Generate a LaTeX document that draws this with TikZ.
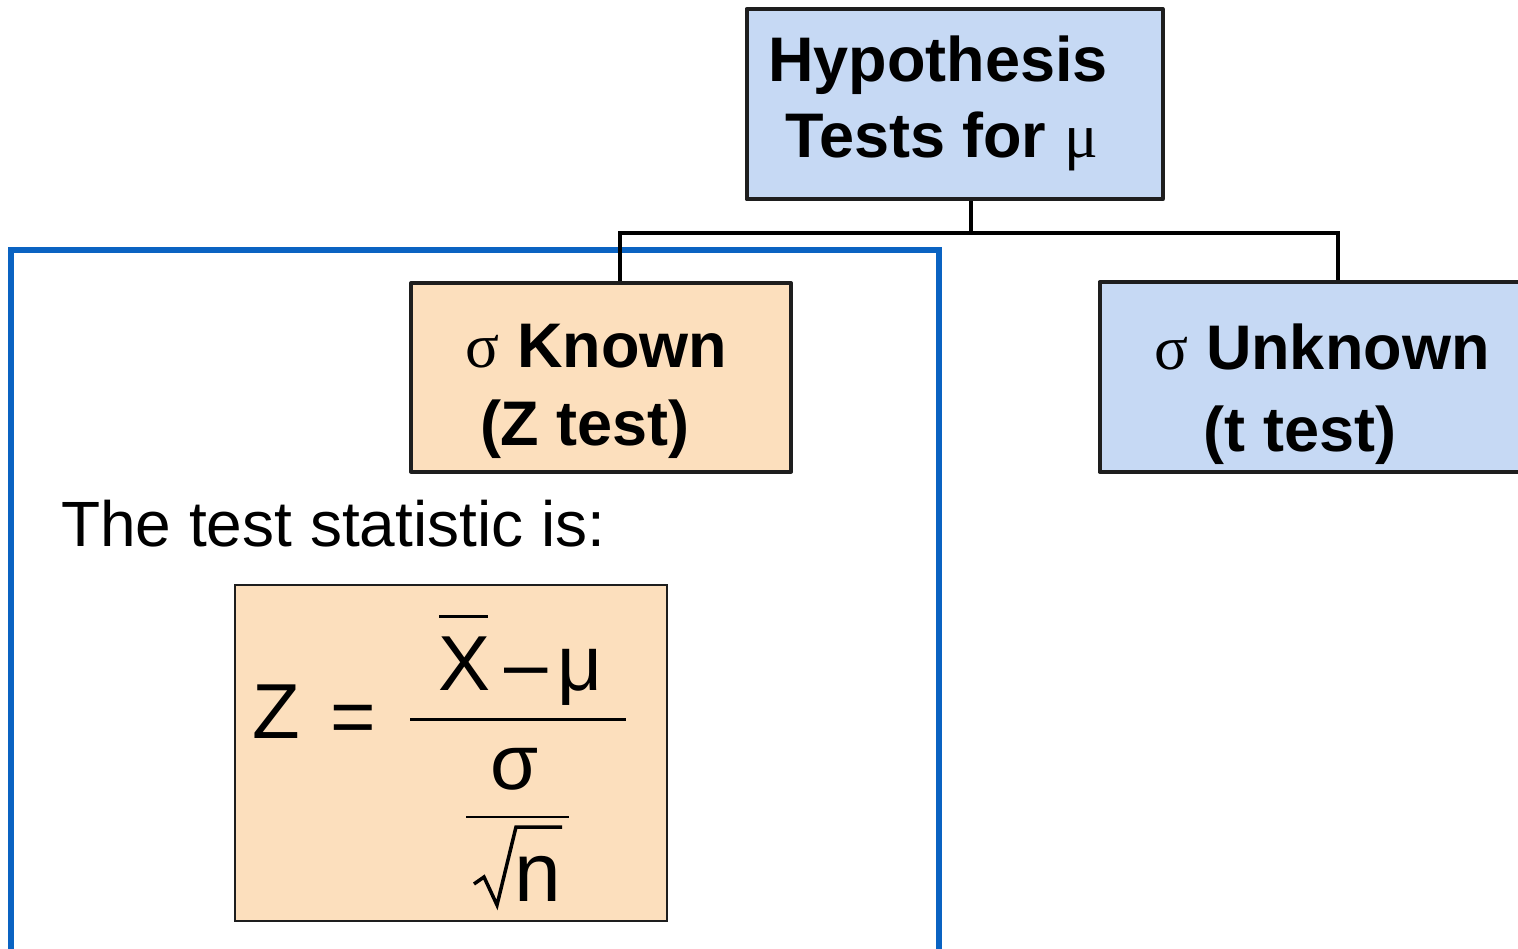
\documentclass[tikz,border=0pt]{standalone}
\usepackage{fontspec}
\setmainfont{Liberation Sans}
\newfontfamily\gkfont{Liberation Serif}
\definecolor{boxblue}{HTML}{C6D9F4}
\definecolor{boxpeach}{HTML}{FCDFBD}
\definecolor{frameblue}{HTML}{0A63C2}
\definecolor{edge}{HTML}{1E1E1E}
\begin{document}
\begin{tikzpicture}[x=1pt,y=-1pt,
  hbox/.style={draw=edge, line width=4pt, inner sep=0pt, line join=round},
  conn/.style={draw=black, line width=4.5pt},
  head/.style={font=\fontsize{63}{76}\selectfont\bfseries, inner sep=0pt, anchor=base},
  plain/.style={font=\fontsize{64}{76}\selectfont, inner sep=0pt, anchor=base west},
  fm/.style={font=\fontsize{78}{90}\selectfont, inner sep=0pt, anchor=base},
  fmline/.style={draw=black, line width=3pt}
]
\useasboundingbox (0,0) rectangle (1518,949);
\clip (0,0) rectangle (1518,949);

% blue frame
\draw[frameblue, line width=5.5pt] (11,960) -- (11,250) -- (939,250) -- (939,960);

% boxes
\node[hbox, fill=boxblue, minimum width=416pt, minimum height=190.5pt] (top) at (954.5,104.25) {};
\node[hbox, fill=boxpeach, minimum width=380pt, minimum height=188.5pt] (known) at (601,377.25) {};
\node[hbox, fill=boxblue, minimum width=440pt, minimum height=189pt] (unknown) at (1319.5,377) {};

% connectors
\coordinate (js) at (971,233);
\coordinate (jl) at (620,233);
\coordinate (jr) at (1338,233);
\draw[conn] (top.south -| js) -- (js);
\draw[conn] (known.north -| jl) -- (jl) -- (jr) -- (unknown.north -| jr);

% box texts
\node[head] (t1) at (938,82) {Hypothesis};
\node[head] (t2) at (941.5,158) {Tests for {\gkfont\mdseries μ}};
\node[head] (k1) at (596.5,368) {{\gkfont\mdseries σ} Known};
\node[head] (k2) at (585,445) {(Z test)};
\node[head] (u1) at (1322,370) {{\gkfont\mdseries σ} Unknown};
\node[head] (u2) at (1300,451) {(t test)};

% statement
\node[plain] (stat) at (61,546) {The test statistic is:};

% formula box
\node[draw=edge, line width=1.5pt, fill=boxpeach, inner sep=0pt, minimum width=432pt, minimum height=336pt] (fbox) at (451,753) {};

\node[fm] (fz) at (276,738) {Z};
\node[fm] (feq) at (353.5,743) {=};
\node[fm] (fx) at (464.5,690) {X};
\draw[fmline] (439,616) -- (488,616);
\node[fm] (fminus) at (526.5,690) {–};
\node[fm] (fmu) at (580,690) {μ};
\coordinate (fbl) at (410,719);
\coordinate (fbr) at (626,719);
\draw[fmline] (fbl) -- (fbr);
\node[fm] (fsig) at (515,789) {σ};
\coordinate (sbl) at (466,817);
\coordinate (sbr) at (569,817);
\draw[draw=black, line width=2pt] (sbl) -- (sbr);
\draw[draw=black, line width=3.5pt, line join=miter] (474,884) -- (484,877) -- (497,905) -- (516,827) -- (562,827);
\node[fm, font=\fontsize{84}{90}\selectfont] (fn) at (538,901) {n};
\end{tikzpicture}
\end{document}
